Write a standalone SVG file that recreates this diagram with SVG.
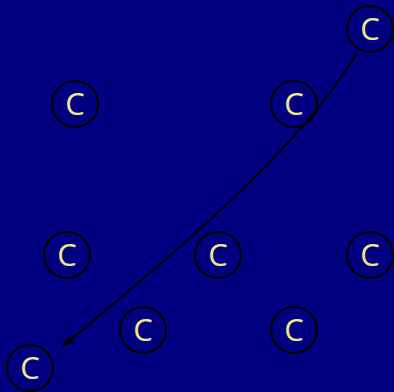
<svg xmlns="http://www.w3.org/2000/svg" width="394" height="392" viewBox="0 0 394 392">
<style>
.n circle{fill:none;stroke:#000;stroke-width:2.2}
.n text{font-family:"Open Sans",sans-serif;font-size:31px;fill:#f0e68c;text-anchor:middle;dominant-baseline:central}
.e{fill:none;stroke:#000;stroke-width:2}
</style>
<defs>
<marker id="ah" viewBox="0 0 12 10" refX="11" refY="5" markerWidth="12" markerHeight="10" markerUnits="userSpaceOnUse" orient="auto">
<path d="M0,1 L11,5 L0,9 L3,5 Z" fill="#000" stroke="#000" stroke-width="1"/>
</marker>
</defs>
<rect width="394" height="392" fill="#000080"/>
<g id="connectors">
<path class="e" d="M357,53 C298,151 178,250 63,346" marker-end="url(#ah)"/>
</g>
<g id="n1" class="n"><circle cx="370" cy="29" r="23"/><text x="370" y="28">C</text></g>
<g id="n2" class="n"><circle cx="75" cy="104" r="23"/><text x="75" y="103">C</text></g>
<g id="n3" class="n"><circle cx="294" cy="104" r="23"/><text x="294" y="103">C</text></g>
<g id="n4" class="n"><circle cx="67" cy="255" r="23"/><text x="67" y="254">C</text></g>
<g id="n5" class="n"><circle cx="218" cy="255" r="23"/><text x="218" y="254">C</text></g>
<g id="n6" class="n"><circle cx="370" cy="255" r="23"/><text x="370" y="254">C</text></g>
<g id="n7" class="n"><circle cx="143" cy="330" r="23"/><text x="143" y="329">C</text></g>
<g id="n8" class="n"><circle cx="294" cy="330" r="23"/><text x="294" y="329">C</text></g>
<g id="n9" class="n"><circle cx="30" cy="368" r="23"/><text x="30" y="367">C</text></g>
</svg>
